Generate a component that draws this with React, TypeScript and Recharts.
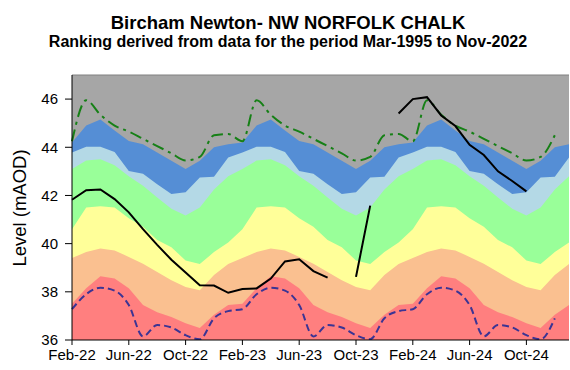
import { ComposedChart, Area, Line, XAxis, YAxis, CartesianGrid, ReferenceLine } from "recharts";

const FONT = '"Liberation Sans", Arial, sans-serif';

// one point per month, Feb-22 .. Jan-25
const months = [
  "Feb-22", "Mar-22", "Apr-22", "May-22", "Jun-22", "Jul-22", "Aug-22", "Sep-22", "Oct-22", "Nov-22", "Dec-22", "Jan-23",
  "Feb-23", "Mar-23", "Apr-23", "May-23", "Jun-23", "Jul-23", "Aug-23", "Sep-23", "Oct-23", "Nov-23", "Dec-23", "Jan-24",
  "Feb-24", "Mar-24", "Apr-24", "May-24", "Jun-24", "Jul-24", "Aug-24", "Sep-24", "Oct-24", "Nov-24", "Dec-24", "Jan-25",
];
const tickLabels = ["Feb-22", "Jun-22", "Oct-22", "Feb-23", "Jun-23", "Oct-23", "Feb-24", "Jun-24", "Oct-24"];

// ranking band tops by calendar month, Feb .. Jan (mAOD)
const redTop = [37.5, 38.15, 38.65, 38.55, 38.15, 37.45, 37.15, 36.95, 36.7, 36.5, 37.05, 37.45];
const orangeTop = [39.4, 39.65, 39.8, 39.72, 39.45, 39.17, 38.82, 38.48, 38.2, 38.07, 38.7, 39.15];
const yellowTop = [40.6, 41.5, 41.55, 41.5, 41.05, 40.7, 40.15, 39.85, 39.3, 39.15, 39.65, 40.05];
const greenTop = [43.1, 43.45, 43.5, 43.25, 42.8, 42.4, 41.92, 41.45, 41.17, 41.5, 42.25, 42.8];
const lightBlueTop = [43.78, 44.02, 44.02, 43.8, 43.02, 42.9, 42.47, 42.06, 42.13, 42.75, 42.78, 43.58];
const blueTop = [44.2, 44.9, 45.15, 44.7, 44.26, 44.13, 43.78, 43.44, 43.1, 43.44, 44.0, 44.13];

// max / min of record by calendar month, Feb .. Jan
const maxLevel = [44.25, 45.95, 45.35, 44.9, 44.65, 44.35, 44.05, 43.75, 43.45, 43.6, 44.5, 44.55];
const minLevel = [37.28, 37.9, 38.17, 38.05, 37.45, 36.15, 36.62, 36.52, 36.2, 36.03, 36.9, 37.2];

// observed level
const level = [
  41.82, 42.22, 42.25, 41.85, 41.3, 40.6, 39.95, 39.33, 38.8, 38.27, 38.26, 37.96,
  38.12, 38.14, 38.55, 39.26, 39.35, 38.86, 38.59, null, 38.62, 41.58, null, 45.4,
  46.0, 46.08, 45.32, 44.88, 44.1, 43.68, 43.0, 42.6, 42.17, null, null, null,
];

const data = months.map((m, i) => {
  const c = i % 12;
  return {
    idx: i,
    month: m,
    red: redTop[c],
    orange: orangeTop[c],
    yellow: yellowTop[c],
    green: greenTop[c],
    lightBlue: lightBlueTop[c],
    blue: blueTop[c],
    max: i < 35 ? maxLevel[c] : null,
    min: i < 35 ? minLevel[c] : null,
    level: level[i],
  };
});

const bands = [
  { key: "blue", fill: "#558ED5" },
  { key: "lightBlue", fill: "#B4D9E6" },
  { key: "green", fill: "#99FF99" },
  { key: "yellow", fill: "#FFFF99" },
  { key: "orange", fill: "#FAC090" },
  { key: "red", fill: "#FF7F7F" },
];

const tick = { fontSize: 15, fill: "#000", fontFamily: FONT };

export default function App() {
  return (
    <div style={{ position: "absolute", left: 0, top: 0, width: 570, height: 370, background: "#fff", fontFamily: FONT }}>
      <div style={{ position: "absolute", left: 3, top: 12.6, width: 570, textAlign: "center", fontSize: 18.5, lineHeight: "20px", fontWeight: "bold" }}>
        Bircham Newton- NW NORFOLK CHALK
      </div>
      <div style={{ position: "absolute", left: 3, top: 33.2, width: 570, textAlign: "center", fontSize: 16, lineHeight: "18px", fontWeight: "bold" }}>
        Ranking derived from data for the period Mar-1995 to Nov-2022
      </div>
      <div
        style={{
          position: "absolute",
          left: 20,
          top: 208,
          transform: "translate(-50%, -50%) rotate(-90deg)",
          whiteSpace: "nowrap",
          fontSize: 18.5,
          lineHeight: "20px",
        }}
      >
        Level (mAOD)
      </div>
      <ComposedChart width={570} height={370} data={data} margin={{ top: 75, right: 1, bottom: 0, left: 0 }}>
        <CartesianGrid horizontal={false} vertical={false} fill="#A6A6A6" fillOpacity={1} />
        {bands.map((b) => (
          <Area
            key={b.key}
            type="linear"
            dataKey={b.key}
            fill={b.fill}
            fillOpacity={1}
            stroke="none"
            baseValue="dataMin"
            isAnimationActive={false}
          />
        ))}
        <Line type="monotone" dataKey="max" stroke="#168016" strokeWidth={2} strokeDasharray="12 5 3 5" dot={false} isAnimationActive={false} />
        <Line type="monotone" dataKey="min" stroke="#3B3494" strokeWidth={2} strokeDasharray="7 4" dot={false} isAnimationActive={false} />
        <Line type="linear" dataKey="level" stroke="#000" strokeWidth={2} dot={false} isAnimationActive={false} />
        <ReferenceLine y={47} stroke="#808080" strokeWidth={1} />
        <XAxis
          dataKey="idx"
          type="number"
          domain={[0, 35]}
          ticks={[0, 4, 8, 12, 16, 20, 24, 28, 32]}
          tickFormatter={(v: number) => tickLabels[v / 4]}
          height={30}
          tick={tick}
          tickSize={5}
          tickMargin={4.5}
          stroke="#000"
          interval={0}
        />
        <YAxis
          domain={[36, 47]}
          ticks={[36, 38, 40, 42, 44, 46]}
          width={72}
          tick={tick}
          tickSize={7}
          tickMargin={7}
          stroke="#000"
          allowDataOverflow
        />
      </ComposedChart>
    </div>
  );
}
